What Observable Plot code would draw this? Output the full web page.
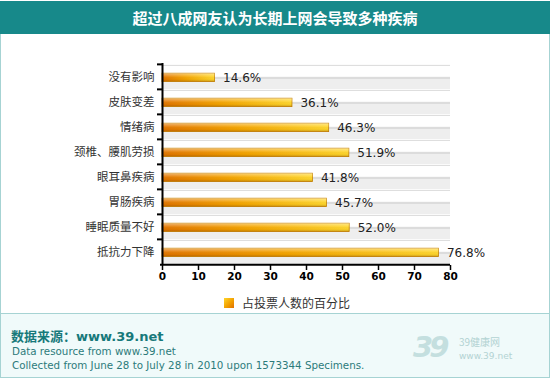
<!DOCTYPE html>
<html>
<head>
<meta charset="utf-8">
<script src="https://cdn.jsdelivr.net/npm/d3@7"></script>
<script src="https://cdn.jsdelivr.net/npm/@observablehq/plot@0.6"></script>
<style>
  body { margin: 0; background: #fff; }
  #wrap { position: relative; width: 550px; height: 379px; overflow: hidden; font-family: "Noto Sans CJK SC", sans-serif; }
  #title { position: absolute; left: 0; top: 1px; width: 550px; height: 33px; background: #17898a; color: #fff;
           font: bold 15px "Noto Sans CJK SC", sans-serif; line-height: 33px; text-align: center; }
  #panel { position: absolute; left: 0; top: 34px; width: 548px; height: 279px; border: 1px solid #a6d3d3; border-top: none; border-bottom: none; background: #fff; }
  #chart { position: absolute; left: 0; top: 0; }
  #legend { position: absolute; left: 223px; top: 260px; display: flex; align-items: center; font: 12px "Noto Sans CJK SC", sans-serif; color: #333; }
  #legend .sw { width: 10px; height: 10px; background: linear-gradient(135deg, #ffd52a 0%, #f2a000 55%, #e07000 100%); margin-right: 8px; }
  #footer { position: absolute; left: 0; top: 313px; width: 548px; height: 63px; border: 1px solid #a6d3d3; background: #f0fafa; }
  #footer .src { position: absolute; left: 10px; top: 12px; font: bold 13px "DejaVu Sans", "Noto Sans CJK SC", sans-serif; color: #17797a; }
  #footer .l2, #footer .l3 { position: absolute; left: 11px; font: 10.3px "DejaVu Sans", sans-serif; color: #2c7a7a; }
  #footer .l2 { top: 31px; }
  #footer .l3 { top: 45px; }
  #footer .logo { position: absolute; left: 412px; top: 16px; font: italic bold 29px "DejaVu Sans", sans-serif; color: #c4dfdf; letter-spacing: -4px; }
  #footer .logo2 { position: absolute; left: 458px; top: 22px; font: 10px "Noto Sans CJK SC", sans-serif; color: #b3d3d3; line-height: 12px; }
  #footer .logo3 { position: absolute; left: 458px; top: 37px; font: 9px "DejaVu Sans", sans-serif; color: #b3d3d3; line-height: 11px; }
</style>
</head>
<body>
<svg width="0" height="0" style="position:absolute">
  <defs>
    <linearGradient id="barGrad" x1="0" y1="0" x2="1" y2="0">
      <stop offset="0%" stop-color="#e27600"/>
      <stop offset="45%" stop-color="#f4a400"/>
      <stop offset="100%" stop-color="#ffd62c"/>
    </linearGradient>
    <linearGradient id="shade" x1="0" y1="0" x2="0" y2="1">
      <stop offset="0%" stop-color="#ffffff" stop-opacity="0.45"/>
      <stop offset="40%" stop-color="#ffffff" stop-opacity="0.1"/>
      <stop offset="70%" stop-color="#000000" stop-opacity="0"/>
      <stop offset="100%" stop-color="#8a4a00" stop-opacity="0.3"/>
    </linearGradient>
  </defs>
</svg>
<div id="wrap">
  <div id="title">超过八成网友认为长期上网会导致多种疾病</div>
  <div id="panel">
    <div id="chart"></div>
    <div id="legend"><div class="sw"></div><span id="legendText"></span></div>
  </div>
  <div id="footer">
    <div class="src">数据来源：www.39.net</div>
    <div class="l2">Data resource from www.39.net</div>
    <div class="l3">Collected from June 28 to July 28 in 2010 upon 1573344 Specimens.</div>
    <div class="logo">39</div>
    <div class="logo2">39健康网</div>
    <div class="logo3">www.39.net</div>
  </div>
</div>
<script>
const categories = ["没有影响", "皮肤变差", "情绪病", "颈椎、腰肌劳损", "眼耳鼻疾病", "胃肠疾病", "睡眠质量不好", "抵抗力下降"];
const values = [14.6, 36.1, 46.3, 51.9, 41.8, 45.7, 52.0, 76.8];
const xTicks = [0, 10, 20, 30, 40, 50, 60, 70, 80];
const legendLabel = "占投票人数的百分比";

document.getElementById("legendText").textContent = legendLabel;

const data = categories.map((c, i) => ({category: c, value: values[i]}));
const bw = 202 / categories.length;

const chart = Plot.plot({
  width: 548,
  height: 253,
  marginTop: 29,
  marginBottom: 22,
  marginLeft: 161,
  marginRight: 99,
  x: {domain: [0, 80], axis: null},
  y: {domain: categories, padding: 0, axis: null},
  style: {fontFamily: "DejaVu Sans", fontSize: "12px", color: "#222", background: "transparent", overflow: "visible"},
  marks: [
    Plot.barX(data, {y: "category", x1: 0, x2: 80, fill: "#eeeeee", insetTop: bw / 2}),
    Plot.ruleY(data, {y: "category", x1: 0, x2: 80, stroke: "#dadada", dy: -bw / 2 + 1}),
    Plot.ruleY(data, {y: "category", x1: 0, x2: 80, stroke: "#cacaca", dy: 1}),
    Plot.barX(data, {y: "category", x1: 0, x2: "value", fill: "url(#barGrad)", stroke: "#c98300", strokeWidth: 0.8, insetTop: 9.2, insetBottom: 7.4}),
    Plot.barX(data, {y: "category", x1: 0, x2: "value", fill: "url(#shade)", insetTop: 9.2, insetBottom: 7.4}),
    Plot.text(data, {y: "category", x: "value", text: d => d.value.toFixed(1) + "%", textAnchor: "start", dx: 8, dy: 1, fontSize: 12, fill: "#222"}),
    Plot.axisY({tickSize: 0, tickPadding: 8, fontSize: 11.5, fontFamily: "Noto Sans CJK SC", fill: "#333", label: null}),
    Plot.ruleY(data, {y: "category", x1: 0, x2: 0, insetLeft: -5, dy: -bw / 2, stroke: "#000", strokeWidth: 2}),
    Plot.ruleY(data.slice(-1), {y: "category", x1: 0, x2: 80, insetLeft: -2, dy: bw / 2, stroke: "#000", strokeWidth: 2}),
    Plot.ruleX([0], {stroke: "#000", strokeWidth: 2}),
    Plot.axisX({ticks: xTicks, tickSize: 5, tickPadding: 2, fontSize: 10.5, fontWeight: "bold", fill: "#000", stroke: "#000", strokeWidth: 1.5, label: null, tickFormat: d => d})
  ]
});
document.getElementById("chart").appendChild(chart);
</script>
</body>
</html>
